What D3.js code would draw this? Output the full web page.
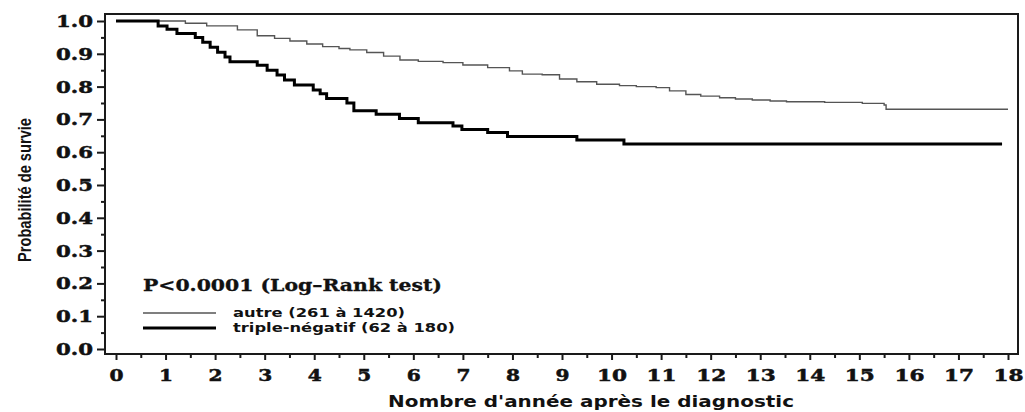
<!DOCTYPE html>
<html>
<head>
<meta charset="utf-8">
<script src="https://cdn.jsdelivr.net/npm/d3@7"></script>
<style>
  body { margin: 0; background: #fff; }
  svg { display: block; }
</style>
</head>
<body>
<script>
// courbes de survie
const autreTime = [0, 0.95, 1.4, 1.83, 2.45, 2.85, 3.2, 3.51, 3.85, 4.17, 4.5, 4.72, 5.06, 5.4, 5.73, 6.1, 6.6, 7.0, 7.5, 7.94, 8.2, 8.6, 8.95, 9.3, 9.7, 10.16, 10.5, 10.9, 11.17, 11.5, 11.8, 12.18, 12.5, 12.84, 13.2, 13.53, 14.3, 15.06, 15.5, 15.54, 18.0];
const autreSurv = [1.0, 1.0, 0.993, 0.985, 0.973, 0.955, 0.947, 0.939, 0.93, 0.922, 0.916, 0.912, 0.904, 0.893, 0.881, 0.877, 0.873, 0.866, 0.858, 0.848, 0.838, 0.836, 0.823, 0.815, 0.807, 0.803, 0.8, 0.797, 0.787, 0.776, 0.771, 0.766, 0.762, 0.759, 0.756, 0.754, 0.752, 0.749, 0.744, 0.731, 0.731];

const tripleTime = [0, 0.85, 1.03, 1.23, 1.6, 1.75, 1.9, 2.05, 2.2, 2.3, 2.85, 3.05, 3.25, 3.4, 3.6, 3.98, 4.12, 4.25, 4.66, 4.8, 5.25, 5.72, 6.1, 6.8, 6.98, 7.5, 7.9, 9.3, 10.25, 17.88];
const tripleSurv = [1.0, 0.985, 0.975, 0.962, 0.95, 0.935, 0.92, 0.905, 0.89, 0.876, 0.865, 0.85, 0.835, 0.82, 0.805, 0.79, 0.778, 0.764, 0.75, 0.726, 0.716, 0.703, 0.69, 0.68, 0.669, 0.66, 0.648, 0.637, 0.625, 0.625];

const xTicks = [0, 1, 2, 3, 4, 5, 6, 7, 8, 9, 10, 11, 12, 13, 14, 15, 16, 17, 18];
const xMinor = [0.5, 1.5, 2.5, 3.5, 4.5, 5.5, 6.5, 7.5, 8.5, 9.5, 10.5, 11.5, 12.5, 13.5, 14.5, 15.5, 16.5, 17.5];
const yTicks = [0, 0.1, 0.2, 0.3, 0.4, 0.5, 0.6, 0.7, 0.8, 0.9, 1.0];
const yMinor = [0.05, 0.15, 0.25, 0.35, 0.45, 0.55, 0.65, 0.75, 0.85, 0.95];

const legendLabels = ['autre (261 à 1420)', 'triple-négatif (62 à 180)'];
const pValue = 'P<0.0001 (Log\u2013Rank test)';

const width = 1025;
const height = 412;

const frame = { left: 105, right: 1018, top: 14, bottom: 354 };

const svg = d3.select('body')
  .append('svg')
  .attr('width', width)
  .attr('height', height);

const x = d3.scaleLinear()
  .domain([0, 18])
  .range([116, 1008]);

const y = d3.scaleLinear()
  .domain([0, 1])
  .range([349, 21]);

const serif = 'DejaVu Serif, Liberation Serif, serif';
const sans = 'DejaVu Sans, Liberation Sans, sans-serif';

// cadre
svg.append('rect')
  .attr('x', frame.left)
  .attr('y', frame.top)
  .attr('width', frame.right - frame.left)
  .attr('height', frame.bottom - frame.top)
  .attr('fill', 'none')
  .attr('stroke', '#1a1a1a')
  .attr('stroke-width', 2);

// axe Y
const ejeY = svg.append('g')
  .attr('transform', `translate(${frame.left}, 0)`)
  .call(d3.axisLeft(y)
    .tickValues(yTicks)
    .tickFormat(d3.format('.1f'))
    .tickSize(8)
    .tickPadding(4));

ejeY.select('.domain').remove();
ejeY.selectAll('line').attr('stroke', '#1a1a1a').attr('stroke-width', 2);
ejeY.selectAll('text')
  .attr('font-family', serif)
  .attr('font-weight', 'bold')
  .attr('font-size', 17)
  .attr('textLength', 37)
  .attr('lengthAdjust', 'spacingAndGlyphs')
  .attr('stroke', '#111')
  .attr('stroke-width', 0.5)
  .attr('fill', '#111');

const ejeYMinor = svg.append('g')
  .attr('transform', `translate(${frame.left}, 0)`)
  .call(d3.axisLeft(y).tickValues(yMinor).tickFormat('').tickSize(4));

ejeYMinor.select('.domain').remove();
ejeYMinor.selectAll('line').attr('stroke', '#1a1a1a').attr('stroke-width', 2);

// axe X
const ejeX = svg.append('g')
  .attr('transform', `translate(0, ${frame.bottom})`)
  .call(d3.axisBottom(x)
    .tickValues(xTicks)
    .tickSize(6)
    .tickPadding(10));

ejeX.select('.domain').remove();
ejeX.selectAll('line').attr('stroke', '#1a1a1a').attr('stroke-width', 2);
ejeX.selectAll('text')
  .attr('font-family', serif)
  .attr('font-weight', 'bold')
  .attr('font-size', 16)
  .attr('textLength', (d) => d < 10 ? 14 : 30)
  .attr('lengthAdjust', 'spacingAndGlyphs')
  .attr('stroke', '#111')
  .attr('stroke-width', 0.5)
  .attr('fill', '#111');

const ejeXMinor = svg.append('g')
  .attr('transform', `translate(0, ${frame.bottom})`)
  .call(d3.axisBottom(x).tickValues(xMinor).tickFormat('').tickSize(4));

ejeXMinor.select('.domain').remove();
ejeXMinor.selectAll('line').attr('stroke', '#1a1a1a').attr('stroke-width', 2);

// courbes
const line = d3.line()
  .x((d) => x(d[0]))
  .y((d) => y(d[1]))
  .curve(d3.curveStepAfter);

svg.append('path')
  .datum(d3.zip(autreTime, autreSurv))
  .attr('fill', 'none')
  .attr('stroke', '#555')
  .attr('stroke-width', 1.4)
  .attr('d', line);

svg.append('path')
  .datum(d3.zip(tripleTime, tripleSurv))
  .attr('fill', 'none')
  .attr('stroke', '#000')
  .attr('stroke-width', 3)
  .attr('d', line);

// légende
svg.append('text')
  .attr('x', 143)
  .attr('y', 291)
  .attr('font-family', serif)
  .attr('font-weight', 'bold')
  .attr('font-size', 16)
  .attr('textLength', 299)
  .attr('lengthAdjust', 'spacingAndGlyphs')
  .attr('stroke', '#111')
  .attr('stroke-width', 0.3)
  .attr('fill', '#111')
  .text(pValue);

const legend = svg.append('g');

legend.selectAll('line')
  .data(legendLabels)
  .join('line')
  .attr('x1', 143)
  .attr('x2', 216)
  .attr('y1', (d, i) => 313 + i * 15)
  .attr('y2', (d, i) => 313 + i * 15)
  .attr('stroke', (d, i) => i === 0 ? '#555' : '#000')
  .attr('stroke-width', (d, i) => i === 0 ? 1.4 : 3);

legend.selectAll('text')
  .data(legendLabels)
  .join('text')
  .attr('x', 233)
  .attr('y', (d, i) => 317 + i * 14.5)
  .attr('font-family', sans)
  .attr('font-weight', 'bold')
  .attr('font-size', 13)
  .attr('textLength', (d, i) => i === 0 ? 172 : 222)
  .attr('lengthAdjust', 'spacingAndGlyphs')
  .attr('fill', '#111')
  .text((d) => d);

// titres des axes
svg.append('text')
  .attr('x', 591)
  .attr('y', 407)
  .attr('font-family', sans)
  .attr('font-weight', 'bold')
  .attr('font-size', 15)
  .attr('textLength', 406)
  .attr('lengthAdjust', 'spacingAndGlyphs')
  .attr('fill', '#111')
  .style('text-anchor', 'middle')
  .text('Nombre d\'année après le diagnostic');

svg.append('text')
  .attr('transform', 'rotate(-90)')
  .attr('x', -190)
  .attr('y', 31)
  .attr('font-family', 'Liberation Sans Narrow, Liberation Sans, sans-serif')
  .attr('font-weight', 'bold')
  .attr('font-size', 19)
  .attr('textLength', 144)
  .attr('lengthAdjust', 'spacingAndGlyphs')
  .attr('fill', '#111')
  .style('text-anchor', 'middle')
  .text('Probabilité de survie');
</script>
</body>
</html>
